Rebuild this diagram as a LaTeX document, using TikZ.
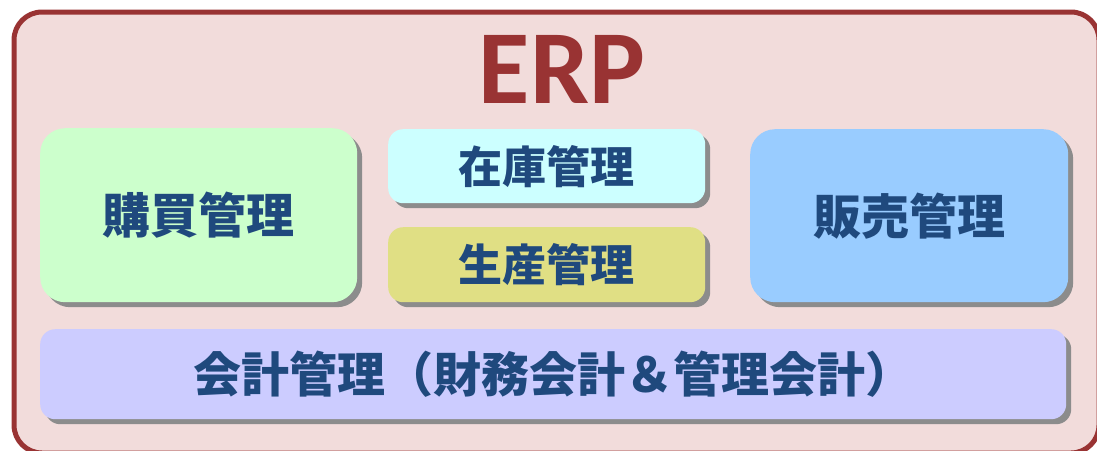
\documentclass[tikz,border=0pt]{standalone}
\usepackage{fontspec}
\setmainfont{Carlito}
\newfontfamily\cjk{Noto Sans CJK JP}
\usetikzlibrary{shadows}

\definecolor{erpred}{HTML}{993333}
\definecolor{erpbg}{HTML}{F2DCDB}
\definecolor{modtext}{HTML}{1F497D}
\definecolor{kobaigreen}{HTML}{CCFFCC}
\definecolor{zaikocyan}{HTML}{CCFFFF}
\definecolor{seisankhaki}{HTML}{E0DF84}
\definecolor{hanbaiblue}{HTML}{99CCFF}
\definecolor{kaikeilav}{HTML}{CCCCFF}

\tikzset{
  module/.style={anchor=north west, inner sep=0pt, text=modtext,
    font=\cjk\bfseries\fontsize{48}{48}\selectfont,
    drop shadow={shadow xshift=5pt, shadow yshift=-5pt, fill=gray!90, opacity=1}},
  bigmod/.style={module, rounded corners=25pt},
  smallmod/.style={module, rounded corners=15pt}
}

\begin{document}
\begin{tikzpicture}[x=1pt,y=-1pt]
        \useasboundingbox (0,0) rectangle (1097,450);
        \clip (0,0) rectangle (1097,450);

        % frame
        \draw[erpred, line width=5pt, fill=erpbg, rounded corners=28pt]
        (14,12) rectangle (1099,453);
        \node[inner sep=0pt, text=erpred, font=\bfseries\fontsize{105}{105}\selectfont]
        (erp) at (562,69) {ERP};

        % modules
        \node[bigmod, fill=kobaigreen, minimum width=317pt, minimum height=174pt]
        (kobai) at (40,128) {購買管理};
        \node[smallmod, fill=zaikocyan, minimum width=317pt, minimum height=74pt,
        font=\cjk\bfseries\fontsize{44}{44}\selectfont]
        (zaiko) at (388,129) {在庫管理};
        \node[smallmod, fill=seisankhaki, minimum width=317pt, minimum height=75pt,
        font=\cjk\bfseries\fontsize{44}{44}\selectfont]
        (seisan) at (388,227) {生産管理};
        \node[bigmod, fill=hanbaiblue, minimum width=318pt, minimum height=173pt]
        (hanbai) at (750,129) {販売管理};
        \node[smallmod, fill=kaikeilav, minimum width=1026pt, minimum height=90pt]
        (kaikei) at (40,329) {会計管理（財務会計＆管理会計）};

      \end{tikzpicture}
\end{document}
